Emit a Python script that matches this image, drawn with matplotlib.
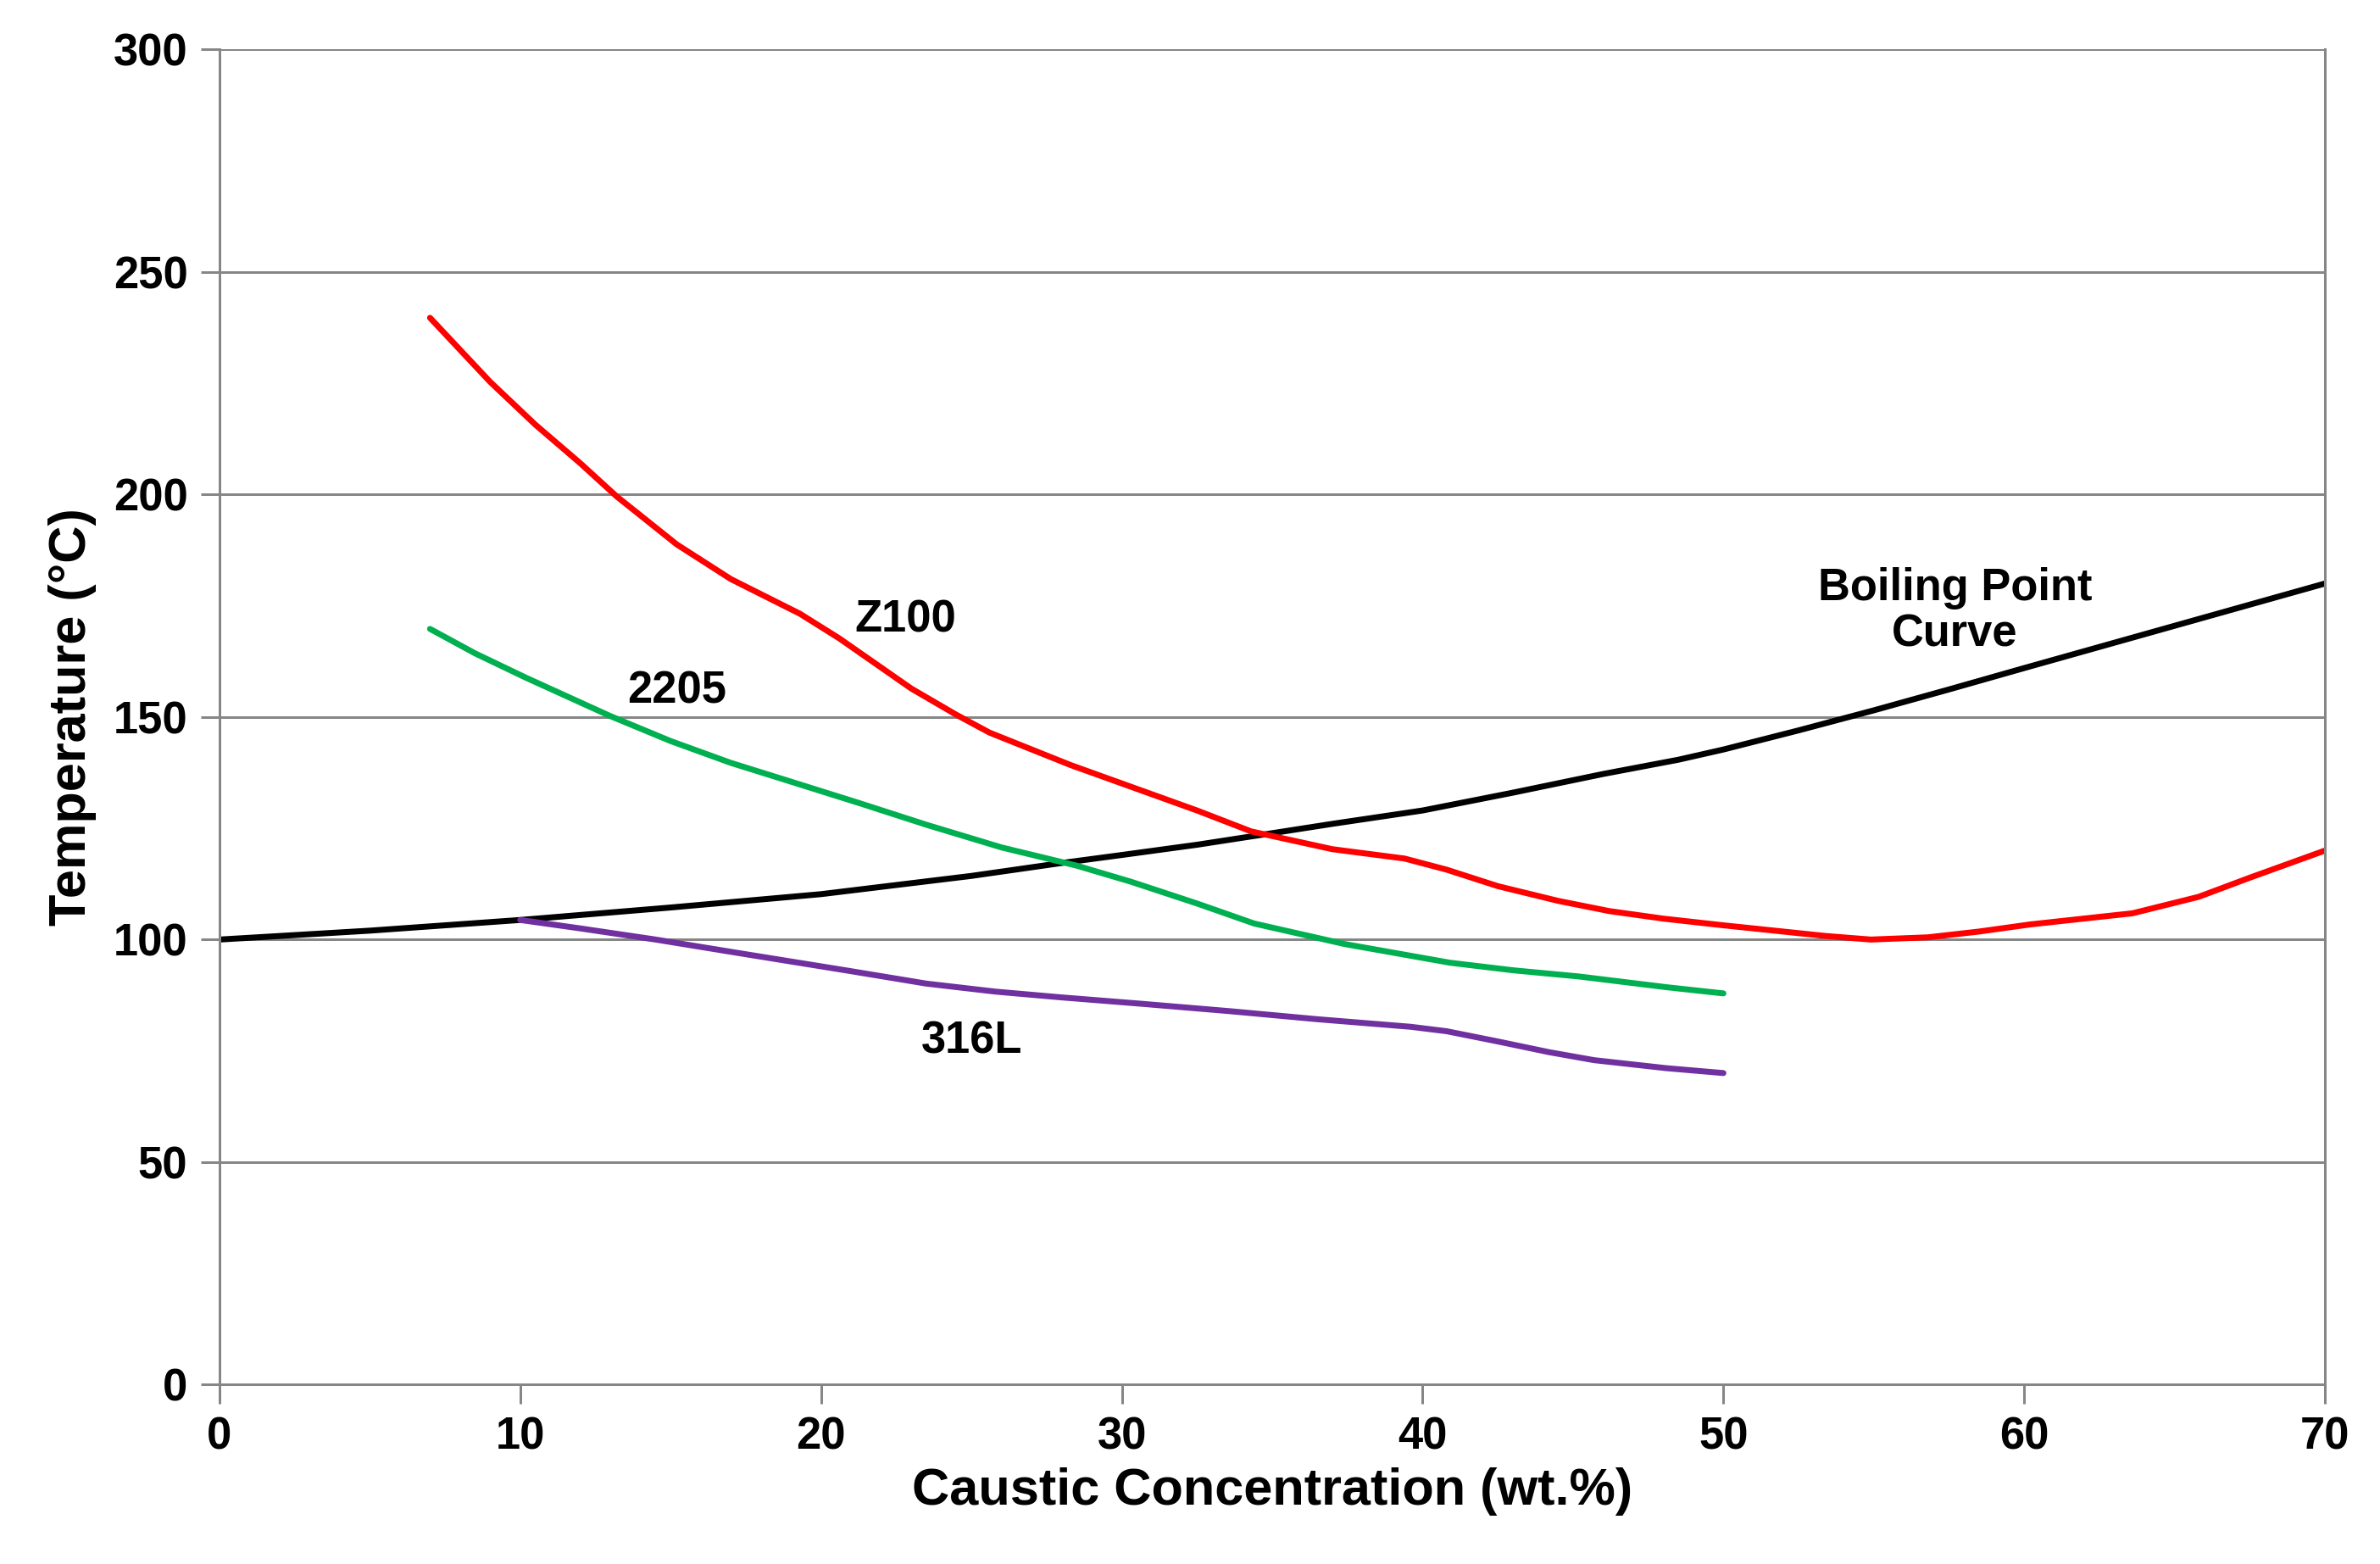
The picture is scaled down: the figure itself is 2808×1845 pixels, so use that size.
import numpy as np
import matplotlib.pyplot as plt

plt.rcParams['font.family'] = ['Liberation Sans', 'DejaVu Sans']
plt.rcParams['font.weight'] = 'bold'

# Boiling point curve
bp_x = [0, 5, 10, 15, 20, 25, 28, 30, 32.5, 35, 37, 40, 43, 46, 48.5, 50, 52.5, 55, 57.5, 60, 65, 70]
bp_y = [100, 102, 104.4, 107.2, 110.2, 114.3, 117.2, 119, 121.3, 123.9, 126, 129, 133, 137.2, 140.4, 142.7,
        147, 151.5, 156.2, 161, 170.5, 180]

# Z100
z100_x = [7, 8, 9, 10.5, 12, 13.2, 15.2, 17, 19.3, 20.6, 23, 24.5, 25.6, 28.3, 32.5, 34.3, 37, 39.4, 40.8,
          42.5, 44.5, 46.2, 48, 50, 53.4, 54.9, 56.8, 58.5, 60.2, 63.6, 65.8, 67.5, 70]
z100_y = [239.7, 232.5, 225.3, 215.7, 207, 199.6, 188.8, 181, 173.2, 167.7, 156.4, 150.5, 146.5, 139.2, 129,
          124.3, 120.3, 118.2, 115.7, 112, 108.7, 106.4, 104.7, 103.2, 100.8, 100, 100.5, 101.8, 103.4,
          105.9, 109.6, 113.9, 120]

# 2205
d2205_x = [7, 8.5, 10.2, 13, 15, 17, 18.8, 21.3, 23.5, 26, 28.5, 30.3, 32.5, 34.4, 37.4, 40.9, 43, 45.2, 48.1, 50]
d2205_y = [169.8, 164.3, 158.8, 150.2, 144.6, 139.7, 135.9, 130.6, 125.8, 120.7, 116.6, 113, 108.1, 103.6,
           99, 94.8, 93.1, 91.7, 89.3, 87.9]

# 316L
s316_x = [10, 12, 14.5, 17.5, 20.9, 23.5, 25.8, 28, 30.6, 33.6, 36.5, 39.6, 40.8, 42.5, 44.2, 45.7, 48.1, 50]
s316_y = [104.4, 102.5, 100, 96.7, 93, 90.1, 88.3, 87, 85.6, 83.9, 82.1, 80.4, 79.4, 77.1, 74.7, 72.9, 71.1, 70]

fig = plt.figure(figsize=(15.6, 10.25), dpi=180)
ax = fig.add_axes([0.0922, 0.1147, 0.8847, 0.8537])

grid_c = '#868686'
ax.set_yticks(np.arange(0, 301, 50))
ax.set_xticks(np.arange(0, 71, 10))
ax.yaxis.grid(True, color=grid_c, linewidth=1.2)
ax.set_axisbelow(True)

line_kw = dict(lw=2.8, solid_joinstyle='round', solid_capstyle='round')
ax.plot(bp_x, bp_y, color='black', **line_kw)
ax.plot(z100_x, z100_y, color='#FF0000', **line_kw)
ax.plot(d2205_x, d2205_y, color='#00B050', **line_kw)
ax.plot(s316_x, s316_y, color='#7030A0', **line_kw)

ax.set_xlim(0, 70)
ax.set_ylim(0, 300)

for s in ['left', 'bottom', 'right']:
    ax.spines[s].set_color(grid_c)
    ax.spines[s].set_linewidth(1.2)
ax.spines['top'].set_visible(False)
ax.tick_params(axis='both', colors=grid_c, length=9, width=1.2, labelsize=21,
               labelcolor='black', pad=6)
for lab in ax.get_xticklabels() + ax.get_yticklabels():
    lab.set_fontweight('bold')

ax.set_xlabel('Caustic Concentration (wt.%)', fontsize=24.5, fontweight='bold', labelpad=4)
ax.set_ylabel('Temperature (°C)', fontsize=24.5, fontweight='bold', labelpad=8)

lab_kw = dict(fontsize=21, fontweight='bold', ha='center', va='center')
ax.text(22.8, 171.7, 'Z100', **lab_kw)
ax.text(15.2, 155.8, '2205', **lab_kw)
ax.text(25.0, 77.1, '316L', **lab_kw)
ax.text(57.7, 173.7, 'Boiling Point\nCurve', linespacing=1.1, **lab_kw)

fig.savefig('out.png', dpi=180)
